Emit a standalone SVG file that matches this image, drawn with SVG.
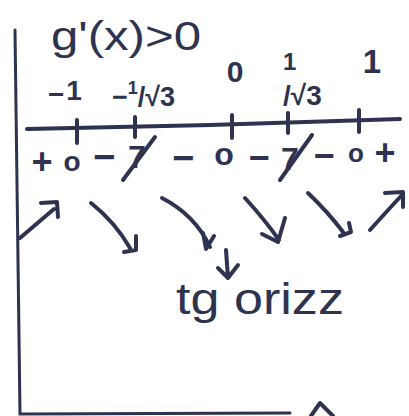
<svg xmlns="http://www.w3.org/2000/svg" width="409" height="416" viewBox="0 0 409 416">
<style>
.ink{fill:none;stroke:#2e3350;stroke-width:4;stroke-linecap:round;stroke-linejoin:round}
.thin{fill:none;stroke:#2e3350;stroke-width:3;stroke-linecap:round}
.t{fill:#2e3350;font-family:"Liberation Sans","DejaVu Sans",sans-serif}
.b{font-weight:bold}
.m{text-anchor:middle}
</style>
<rect width="409" height="416" fill="#fff"/>
<g id="frame">
<path class="thin" d="M15,30 L20,414 L290,413"/>
<path class="ink" d="M311,416 L320,403 L333,416"/>
</g>
<g id="title">
<text class="t" x="51" y="50" font-size="40" textLength="150" lengthAdjust="spacingAndGlyphs">g'(x)&gt;0</text>
</g>
<g id="axis">
<path class="ink" d="M27,129 L210,125 L400,119"/>
<path class="ink" d="M77,120 L77,143 M135,117 L135,137 M232,115 L232,138 M288,113 L288,133 M359,110 L359,132"/>
</g>
<g id="labels">
<text class="t b" x="48" y="104" font-size="28">−<tspan dx="2" dy="-4">1</tspan></text>
<text class="t b" x="112" y="106" font-size="27">−<tspan font-size="18" dy="-12">1</tspan><tspan dy="12">/√3</tspan></text>
<text class="t m b" x="235" y="82" font-size="30">0</text>
<text class="t b" x="283" y="70" font-size="24">1</text>
<text class="t b" x="283" y="105" font-size="28">/√3</text>
<text class="t m b" x="372" y="73" font-size="33">1</text>
</g>
<g id="signs">
<text class="t m b" x="42" y="174" font-size="36">+</text>
<text class="t m b" x="72" y="171" font-size="28">o</text>
<text class="t m b" x="104" y="170" font-size="38">−</text>
<text class="t m b" x="137" y="168" font-size="32">7</text>
<text class="t m b" x="183" y="171" font-size="38">−</text>
<text class="t m b" x="224" y="165" font-size="32">o</text>
<text class="t m b" x="259" y="170" font-size="36">−</text>
<text class="t m b" x="290" y="170" font-size="32">7</text>
<text class="t m b" x="324" y="168" font-size="36">−</text>
<text class="t m b" x="356" y="162" font-size="26">o</text>
<text class="t m b" x="385" y="165" font-size="36">+</text>
<path class="ink" d="M123,180 L155,137 M280,180 L312,135"/>
</g>
<g id="connectors">
<path class="ink" d="M20,238 L54,209 M41,203 L57,202 L58,217"/>
<path class="ink" d="M91,203 Q115,222 130,248 M124,252 L136,250 L136,236"/>
<path class="ink" d="M162,198 Q195,215 210,247 M203,233 L206,249 L214,236"/>
<path class="ink" d="M245,198 Q265,220 279,240 M262,234 L278,242 L285,218"/>
<path class="ink" d="M308,193 Q328,212 343,232 M340,236 L351,232 L349,223"/>
<path class="ink" d="M370,230 Q388,210 402,195 M385,193 L403,192 L403,207"/>
<path class="ink" d="M226,250 L228,278 M218,268 L228,278 L238,265"/>
</g>
<g id="note">
<text class="t" x="176" y="314" font-size="44" textLength="168" lengthAdjust="spacingAndGlyphs">tg orizz</text>
</g>
</svg>
